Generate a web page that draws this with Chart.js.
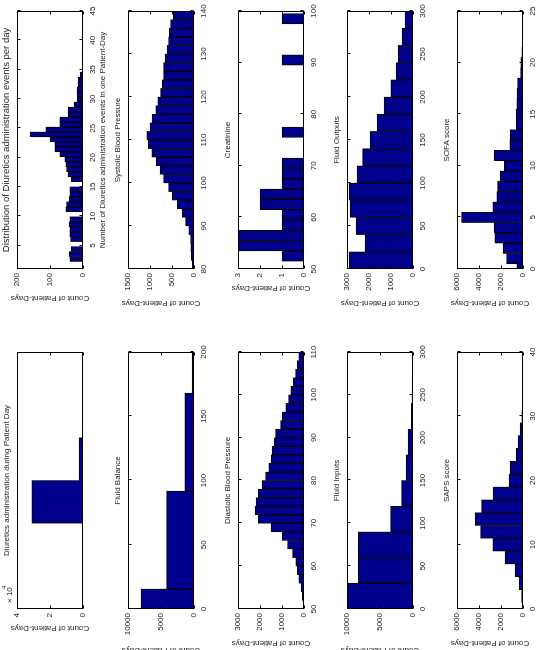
<!DOCTYPE html>
<html><head><meta charset="utf-8">
<script src="https://cdn.jsdelivr.net/npm/chart.js@4/dist/chart.umd.min.js"></script>
<style>
html,body{margin:0;padding:0;background:#fff;overflow:hidden;width:540px;height:650px;}
#fig{position:absolute;left:0;top:0;width:650px;height:540px;transform-origin:0 0;transform:translate(0px,650px) rotate(-90deg);background:#fff;}
#fig canvas{position:absolute;}
</style></head><body><div id="fig"></div>
<script>
// ---------------- data ----------------
const eventsBins = [2.70,3.55,4.40,5.25,6.10,6.95,7.80,8.65,9.50,10.35,11.20,12.05,12.90,13.75,14.60,15.45,16.30,17.15,18.00,18.85,19.70,20.55,21.40,22.25,23.10,23.95,24.80,25.65,26.50,27.35,28.20,29.05,29.90,30.75,31.60,32.45,33.30,34.15,35.00,35.85,36.70,37.55,38.40,39.25,40.10,40.95,41.80,42.65,43.50,44.35];
const eventsCounts = [40,42,35,0,38,40,40,42,40,0,52,50,42,40,40,0,35,45,50,52,55,70,85,85,100,160,113,70,70,45,45,27,18,18,18,15,15,9,3,1,3,3,1,1,0,1,0,0,0,0];
const eventsXTicks = [5,10,15,20,25,30,35,40,45];
const eventsYTicks = [0,100,200];

const sbpBins = [81,83,85,87,89,91,93,95,97,99,101,103,105,107,109,111,113,115,117,119,121,123,125,127,129,131,133,135,137,139];
const sbpCounts = [40,60,70,80,120,190,270,380,490,580,690,770,860,960,1040,1070,1000,950,870,820,760,720,690,690,660,610,580,560,530,470];
const sbpXTicks = [80,90,100,110,120,130,140];
const sbpYTicks = [0,500,1000,1500];

const creatBins = [50.5,52.5,54.5,56.5,58.5,60.5,62.5,64.5,66.5,68.5,70.5,72.5,74.5,76.5,78.5,80.5,82.5,84.5,86.5,88.5,90.5,92.5,94.5,96.5,98.5];
const creatCounts = [0,1,3,3,1,1,2,2,1,1,1,0,0,1,0,0,0,0,0,0,1,0,0,0,1];
const creatXTicks = [50,60,70,80,90,100];
const creatYTicks = [0,1,2,3];

const outBins = [10,30,50,70,90,110,130,150,170,190,210,230,250,270,290];
const outCounts = [2900,2180,2590,2860,2910,2540,2290,1950,1630,1320,1010,770,680,500,360];
const outXTicks = [0,50,100,150,200,250,300];
const outYTicks = [0,1000,2000,3000];

const sofaBins = [0,1,2,3,4,5,6,7,8,9,10,11,12,13,14,15,16,17,18,19,20,21,22,23,24];
const sofaCounts = [550,1500,1820,2550,2640,5580,2750,2390,2300,2090,1700,2640,1200,1180,640,640,560,540,500,210,200,100,30,0,0];
const sofaXTicks = [0,5,10,15,20,25];
const sofaYTicks = [0,2000,4000,6000];

const diurBins = [0.25,0.75];
const diurCounts = [31000,2400];
const diurXTicks = [];
const diurYTicks = [0,20000,40000];

const balBins = [-22.5,53.7,129.9,206.1];
const balCounts = [8000,4150,1400,300];
const balXTicks = [0,50,100,150,200];
const balYTicks = [0,5000,10000];

const dbpBins = [51,53,55,57,59,61,63,65,67,69,71,73,75,77,79,81,83,85,87,89,91,93,95,97,99,101,103,105,107,109];
const dbpCounts = [40,80,130,230,300,370,520,750,1000,1500,2080,2220,2180,2080,1900,1750,1600,1500,1450,1350,1290,1060,980,830,700,600,480,380,300,230];
const dbpXTicks = [50,60,70,80,90,100,110];
const dbpYTicks = [0,1000,2000,3000];

const inBins = [15,45,75,105,135,165,195,225,255,285];
const inCounts = [9900,8300,8300,3400,1720,1060,760,250,150,50];
const inXTicks = [0,50,100,150,200,250,300];
const inYTicks = [0,5000,10000];

const sapsBins = [0,2,4,6,8,10,12,14,16,18,20,22,24,26,28,30,32];
const sapsCounts = [30,120,360,730,1640,2750,3850,4360,3760,2730,1270,1180,640,450,270,100,20];
const sapsXTicks = [0,10,20,30,40];
const sapsYTicks = [0,2000,4000,6000];

const yLabelText = 'Count of Patient-Days';

// ---------------- layout / style ----------------
const FONT = "'Liberation Sans', Arial, Helvetica, sans-serif";
const TXT = '#1c1c1c';
const NAVY = 'rgb(0,0,140)';
const colLeft = [41, 381], colW = [257, 258];
const rowTop = [17, 128, 238, 347, 457];
const BH = 66, YW = 46, RP = 14, TH = 22, XH = 30;

const panels = [
  {col:1,row:0,bins:eventsBins,counts:eventsCounts,xr:[1,45],ymax:200,xt:eventsXTicks,yt:eventsYTicks,
   title:'Distribution of Diuretics administration events per day',titleSize:9.5,xTitle:'Number of Diuretics administration events in one Patient-Day',yOff:29},
  {col:1,row:1,bins:sbpBins,counts:sbpCounts,xr:[80,140],ymax:1500,xt:sbpXTicks,yt:sbpYTicks,title:'Systolic Blood Pressure',yOff:34},
  {col:1,row:2,bins:creatBins,counts:creatCounts,xr:[50,100],ymax:3,xt:creatXTicks,yt:creatYTicks,title:'Creatinine',yOff:19},
  {col:1,row:3,bins:outBins,counts:outCounts,xr:[0,300],ymax:3000,xt:outXTicks,yt:outYTicks,title:'Fluid Outputs',yOff:34},
  {col:1,row:4,bins:sofaBins,counts:sofaCounts,xr:[0,25],ymax:6000,xt:sofaXTicks,yt:sofaYTicks,title:'SOFA score',yOff:34},
  {col:0,row:0,bins:diurBins,counts:diurCounts,xr:[-1,2],ymax:40000,xt:diurXTicks,yt:diurYTicks,
   title:'Diuretics administration during Patient Day',yOff:19,scale:10000,exp:'4'},
  {col:0,row:1,bins:balBins,counts:balCounts,xr:[0,200],ymax:10000,xt:balXTicks,yt:balYTicks,title:'Fluid Balance',yOff:41},
  {col:0,row:2,bins:dbpBins,counts:dbpCounts,xr:[50,110],ymax:3000,xt:dbpXTicks,yt:dbpYTicks,title:'Diastolic Blood Pressure',yOff:34},
  {col:0,row:3,bins:inBins,counts:inCounts,xr:[0,300],ymax:10000,xt:inXTicks,yt:inYTicks,title:'Fluid Inputs',yOff:41},
  {col:0,row:4,bins:sapsBins,counts:sapsCounts,xr:[0,40],ymax:6000,xt:sapsXTicks,yt:sapsYTicks,title:'SAPS score',yOff:34}
];

const framePlugin = {
  id:'matlabFrame',
  afterDatasetsDraw(chart){
    const p = chart.options.plugins.matlabFrame;
    const {ctx, chartArea:{left,top,right,bottom}} = chart;
    const xs = chart.scales.x, ys = chart.scales.y;
    const L = Math.round(left)+0.5, R = Math.round(right)-0.5, T = Math.round(top)+0.5, B = Math.round(bottom)-0.5;
    ctx.save();
    ctx.strokeStyle = '#000'; ctx.lineWidth = 1;
    ctx.strokeRect(L, T, R-L, B-T);
    const tl = 3;
    ctx.beginPath();
    xs.ticks.forEach(t=>{
      const px = Math.round(xs.getPixelForValue(t.value))+0.5;
      ctx.moveTo(px,B); ctx.lineTo(px,B-tl);
      ctx.moveTo(px,T); ctx.lineTo(px,T+tl);
    });
    ys.ticks.forEach(t=>{
      const py = Math.round(ys.getPixelForValue(t.value))+0.5;
      ctx.moveTo(L,py); ctx.lineTo(L+tl,py);
      ctx.moveTo(R,py); ctx.lineTo(R-tl,py);
    });
    ctx.stroke();
    ctx.fillStyle = TXT;
    ctx.font = '8px ' + FONT;
    ctx.translate(left - p.yOff, (top+bottom)/2);
    ctx.rotate(-Math.PI/2);
    ctx.textAlign = 'center'; ctx.textBaseline = 'middle';
    ctx.fillText(yLabelText, 0, 0);
    ctx.setTransform(1,0,0,1,0,0);
    if (p.exp) {
      ctx.textAlign = 'left'; ctx.textBaseline = 'middle';
      ctx.font = '8px ' + FONT;
      ctx.fillText('\u00d7 10', left + 6, top - 7);
      ctx.font = '6px ' + FONT;
      ctx.fillText(p.exp, left + 20, top - 13);
    }
    ctx.restore();
  }
};

const fig = document.getElementById('fig');
panels.forEach(p=>{
  const bx = colLeft[p.col], by = rowTop[p.row], bw = colW[p.col];
  const W = YW + bw + RP, H = TH + BH + XH;
  const cv = document.createElement('canvas');
  cv.width = W; cv.height = H;
  cv.style.left = (bx - YW) + 'px'; cv.style.top = (by - TH) + 'px';
  cv.style.width = W + 'px'; cv.style.height = H + 'px';
  fig.appendChild(cv);
  const div = p.scale || 1;
  const ts = p.titleSize || 8;
  new Chart(cv, {
    type:'bar',
    data:{datasets:[{
      data:p.bins.map((b,i)=>({x:b,y:p.counts[i]})),
      backgroundColor:NAVY, borderColor:'#000', borderWidth:1,
      barThickness:'flex', categoryPercentage:1, barPercentage:1, clip:0
    }]},
    options:{
      responsive:false, animation:false, devicePixelRatio:1,
      layout:{padding:{left:0,right:RP,top:0,bottom:0}},
      plugins:{
        legend:{display:false}, tooltip:{enabled:false},
        title:{display:true,text:p.title,fullSize:false,color:TXT,
               font:{family:FONT,size:ts,weight:'normal',lineHeight:1},padding:{top:TH-6-ts,bottom:6}},
        matlabFrame:{yOff:p.yOff,exp:p.exp}
      },
      scales:{
        x:{type:'linear',min:p.xr[0],max:p.xr[1],offset:false,
           grid:{display:false,drawTicks:false},border:{display:false},
           afterBuildTicks:s=>{s.ticks=p.xt.map(v=>({value:v}));},
           afterFit:s=>{s.height=XH;},
           ticks:{display:p.xt.length>0,autoSkip:false,maxRotation:0,minRotation:0,padding:5,color:TXT,
                  font:{family:FONT,size:8},callback:v=>String(v)},
           title:{display:!!p.xTitle,text:p.xTitle||'',color:TXT,font:{family:FONT,size:8,lineHeight:1},padding:{top:0,bottom:6}}},
        y:{type:'linear',min:0,max:p.ymax,
           grid:{display:false,drawTicks:false},border:{display:false},
           afterBuildTicks:s=>{s.ticks=p.yt.map(v=>({value:v}));},
           afterFit:s=>{s.width=YW;},
           ticks:{autoSkip:false,padding:4,color:TXT,font:{family:FONT,size:8},callback:v=>String(v/div)}}
      }
    },
    plugins:[framePlugin]
  });
});
</script></body></html>
